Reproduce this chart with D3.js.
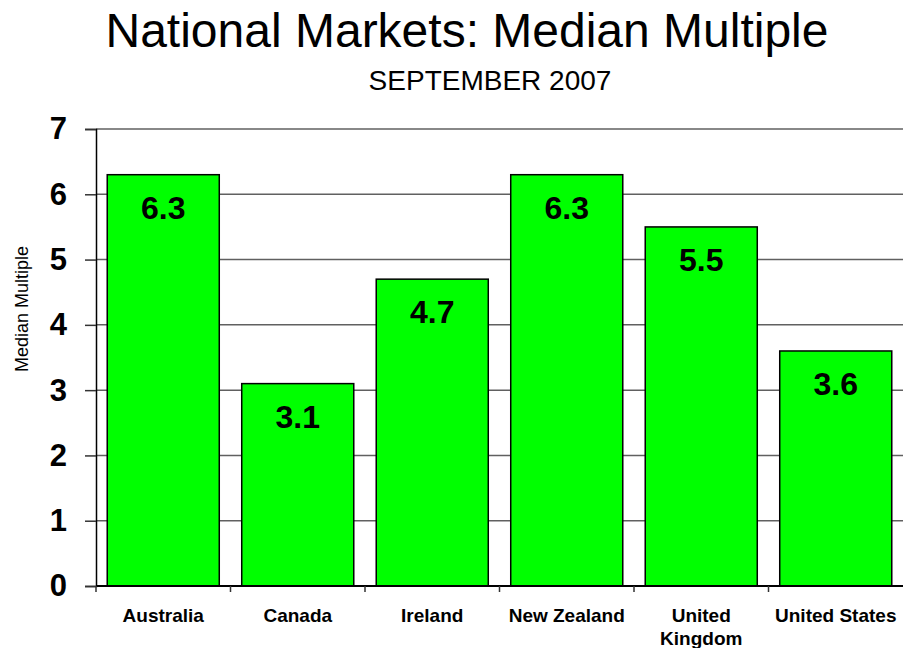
<!DOCTYPE html>
<meta charset="utf-8">
<html>
  <head>
    <title>National Markets: Median Multiple</title>
    <script src="https://d3js.org/d3.v7.min.js"></script>
    <style>
      body {
        margin: 0;
        background: #fff;
        font-family: "Liberation Sans", Arial, sans-serif;
      }
      .grid line {
        stroke: #606060;
        stroke-width: 1.5px;
      }
      .bar {
        fill: #00ff00;
        stroke: #000;
        stroke-width: 1.5px;
      }
    </style>
  </head>
  <body>
    <svg id="chart" width="903" height="648"></svg>

    <script>
      const width = 903;
      const height = 648;

      // data
      const countries = ["Australia", "Canada", "Ireland", "New Zealand", "United Kingdom", "United States"];
      const medianMultiple = [6.3, 3.1, 4.7, 6.3, 5.5, 3.6];
      const countryLabels = [["Australia"], ["Canada"], ["Ireland"], ["New Zealand"], ["United", "Kingdom"], ["United States"]];
      const yTicks = [0, 1, 2, 3, 4, 5, 6, 7];

      const svg = d3.select("#chart")
                    .attr("width", width)
                    .attr("height", height);

      const x = d3.scaleBand()
                  .domain(countries)
                  .range([96, 903])
                  .paddingInner(0.167)
                  .paddingOuter(0.0835);

      const y = d3.scaleLinear()
                  .domain([0, 7])
                  .range([586, 129]);

      // titles
      svg.append("text")
         .attr("x", 467)
         .attr("y", 47)
         .attr("text-anchor", "middle")
         .style("font-size", "48px")
         .text("National Markets: Median Multiple");

      svg.append("text")
         .attr("x", 490)
         .attr("y", 90)
         .attr("text-anchor", "middle")
         .style("font-size", "28px")
         .text("SEPTEMBER 2007");

      // gridlines
      svg.append("g")
         .attr("class", "grid")
         .selectAll("line")
         .data(yTicks.filter(d => d > 0))
         .enter()
         .append("line")
           .attr("x1", 96)
           .attr("x2", width)
           .attr("y1", d => y(d))
           .attr("y2", d => y(d));

      // bars
      const data = countries.map((c, i) => ({ name: c, value: medianMultiple[i] }));

      svg.selectAll("rect.bar")
         .data(data)
         .enter()
         .append("rect")
           .attr("class", "bar")
           .attr("x", d => x(d.name))
           .attr("y", d => y(d.value))
           .attr("width", x.bandwidth())
           .attr("height", d => y(0) - y(d.value));

      // value labels inside bars
      svg.selectAll("text.value")
         .data(data)
         .enter()
         .append("text")
           .attr("class", "value")
           .attr("x", d => x(d.name) + x.bandwidth() / 2)
           .attr("y", d => y(d.value) + 44)
           .attr("text-anchor", "middle")
           .style("font-size", "32px")
           .style("font-weight", "bold")
           .text(d => d.value.toFixed(1));

      // y axis
      const yAxis = svg.append("g")
         .attr("transform", "translate(96,0)")
         .call(d3.axisLeft(y).tickValues(yTicks).tickSize(11).tickPadding(18).tickFormat(d3.format("d")));
      yAxis.select(".domain").attr("stroke", "#000").attr("stroke-width", 1.5);
      yAxis.selectAll(".tick line").attr("stroke", "#333").attr("stroke-width", 1.5);
      yAxis.selectAll(".tick text")
           .attr("fill", "#000")
           .style("font-family", "'Liberation Sans', Arial, sans-serif")
           .style("font-size", "31px")
           .style("font-weight", "bold");

      // x axis
      const boundaries = countries.map(c => x(c) - x.step() * x.paddingInner() / 2);
      svg.append("line")
         .attr("x1", 96).attr("x2", width)
         .attr("y1", y(0)).attr("y2", y(0))
         .attr("stroke", "#000").attr("stroke-width", 2);
      svg.selectAll("line.xtick")
         .data(boundaries)
         .enter()
         .append("line")
           .attr("class", "xtick")
           .attr("x1", d => d).attr("x2", d => d)
           .attr("y1", y(0)).attr("y2", y(0) + 6)
           .attr("stroke", "#333").attr("stroke-width", 1.5);

      const catText = svg.selectAll("text.cat")
         .data(countries)
         .enter()
         .append("text")
           .attr("class", "cat")
           .attr("text-anchor", "middle")
           .style("font-size", "19px")
           .style("font-weight", "bold");
      catText.selectAll("tspan")
         .data((d, i) => countryLabels[i].map(l => ({ name: d, line: l })))
         .enter()
         .append("tspan")
           .attr("x", d => x(d.name) + x.bandwidth() / 2)
           .attr("y", (d, i) => 622 + i * 23)
           .text(d => d.line);

      // y axis title
      svg.append("text")
         .attr("transform", "translate(28,309) rotate(-90)")
         .attr("text-anchor", "middle")
         .style("font-size", "18px")
         .text("Median Multiple");
    </script>
  </body>
</html>
